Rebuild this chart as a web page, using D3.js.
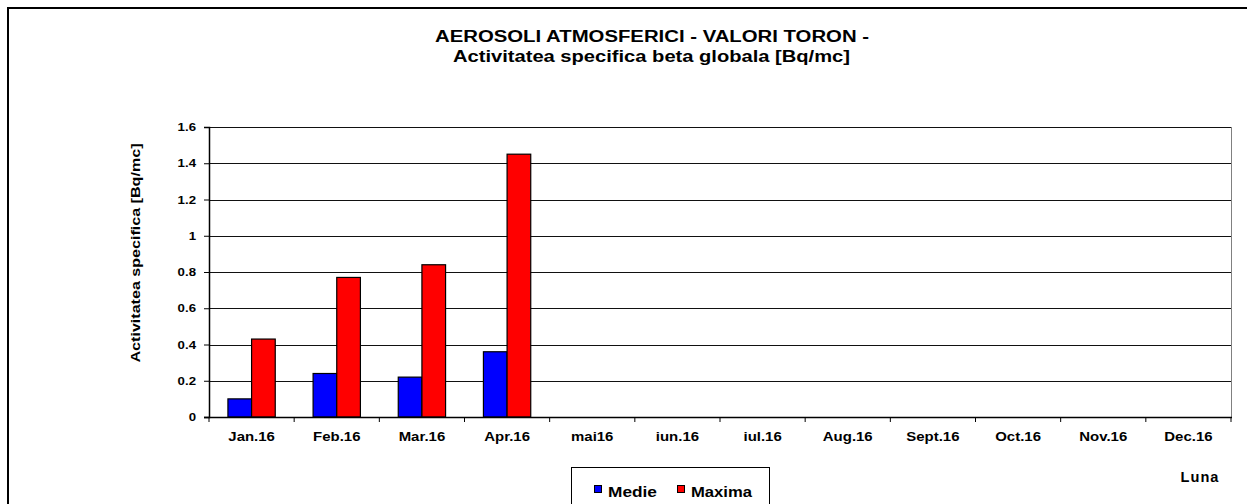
<!DOCTYPE html>
<html>
<head>
<meta charset="utf-8">
<script src="https://cdn.jsdelivr.net/npm/d3@7"></script>
<style>
  html, body { margin: 0; background: #fff; overflow: hidden; }
  svg { display: block; }
  text { font-family: "Liberation Sans", Arial, sans-serif; font-weight: bold; fill: #000; }
</style>
</head>
<body>
<div id="chart"></div>
<script>
var months = ['Jan.16','Feb.16','Mar.16','Apr.16','mai16','iun.16','iul.16','Aug.16','Sept.16','Oct.16','Nov.16','Dec.16'];
var medie  = [0.10, 0.24, 0.22, 0.36, null, null, null, null, null, null, null, null];
var maxima = [0.43, 0.77, 0.84, 1.45, null, null, null, null, null, null, null, null];
var y_ticks = [0, 0.2, 0.4, 0.6, 0.8, 1, 1.2, 1.4, 1.6];
var series_names = ['Medie', 'Maxima'];
var series_colors = ['#0000ff', '#ff0000'];

var width = 1247, height = 504;
var plot = {left: 209, top: 127, right: 1231, bottom: 417};

var svg = d3.select('#chart').append('svg')
    .attr('width', width)
    .attr('height', height);

// the source text is drawn a bit wider than Arial, so stretch it horizontally
function stretch(sel, f) {
  sel.each(function() {
    var n = this.getComputedTextLength();
    d3.select(this)
      .attr('textLength', n * f)
      .attr('lengthAdjust', 'spacingAndGlyphs');
  });
}

// outer chart border: only left and top edges fall inside the picture
svg.append('path')
    .attr('d', 'M8,' + height + 'V8H' + width)
    .attr('fill', 'none')
    .attr('stroke', '#000')
    .attr('stroke-width', 2);

var x = d3.scaleBand()
    .domain(months)
    .range([plot.left, plot.right]);

var x_inner = d3.scaleBand()
    .domain(series_names)
    .range([0, x.bandwidth()])
    .paddingInner(0)
    .paddingOuter(0.8);

var y = d3.scaleLinear()
    .domain([0, 1.6])
    .range([plot.bottom, plot.top]);

// gridlines
svg.append('g')
  .selectAll('line')
  .data(y_ticks.slice(1))
  .enter().append('line')
    .attr('x1', plot.left).attr('x2', plot.right)
    .attr('y1', function(d) { return Math.round(y(d)) + 0.5; })
    .attr('y2', function(d) { return Math.round(y(d)) + 0.5; })
    .attr('stroke', '#111')
    .attr('stroke-width', 1);

// right border of plot area
svg.append('line')
    .attr('x1', plot.right + 0.5).attr('x2', plot.right + 0.5)
    .attr('y1', plot.top).attr('y2', plot.bottom)
    .attr('stroke', '#808080');

// bars
var groups = svg.append('g')
  .selectAll('g')
  .data(months)
  .enter().append('g')
    .attr('transform', function(d) { return 'translate(' + x(d) + ',0)'; });

groups.selectAll('rect')
  .data(function(d, i) {
    return [
      {name: 'Medie', value: medie[i]},
      {name: 'Maxima', value: maxima[i]}
    ].filter(function(e) { return e.value != null; });
  })
  .enter().append('rect')
    .attr('x', function(d) { return x_inner(d.name); })
    .attr('y', function(d) { return y(d.value); })
    .attr('width', x_inner.bandwidth())
    .attr('height', function(d) { return y(0) - y(d.value); })
    .attr('fill', function(d) { return series_colors[series_names.indexOf(d.name)]; })
    .attr('stroke', '#000')
    .attr('stroke-width', 1.2);

// y axis
var yAxis = svg.append('g')
    .attr('transform', 'translate(' + plot.left + ',0)')
    .call(d3.axisLeft(y).tickValues(y_ticks).tickSize(5).tickPadding(8)
      .tickFormat(function(d) { return d3.format('')(d); }));
yAxis.select('.domain').attr('stroke', '#000').attr('stroke-width', 1.5);
yAxis.selectAll('.tick line').attr('stroke', '#000');
yAxis.selectAll('text')
    .style('font-size', '11.5px')
    .style('font-family', '"Liberation Sans", Arial, sans-serif')
    .style('font-weight', 'bold');
stretch(yAxis.selectAll('text'), 1.15);

// x axis
var xAxis = svg.append('g')
    .attr('transform', 'translate(0,' + plot.bottom + ')')
    .call(d3.axisBottom(x).tickSize(0).tickPadding(15));
xAxis.select('.domain').remove();
xAxis.selectAll('text')
    .style('font-size', '13px')
    .style('font-family', '"Liberation Sans", Arial, sans-serif')
    .style('font-weight', 'bold');
stretch(xAxis.selectAll('text'), 1.15);
svg.append('line')
    .attr('x1', plot.left - 5).attr('x2', plot.right + 1)
    .attr('y1', plot.bottom + 0.5).attr('y2', plot.bottom + 0.5)
    .attr('stroke', '#000').attr('stroke-width', 1.5);
svg.append('g')
  .selectAll('line')
  .data(months.concat(['end']))
  .enter().append('line')
    .attr('x1', function(d) { return d == 'end' ? plot.right : x(d); })
    .attr('x2', function(d) { return d == 'end' ? plot.right : x(d); })
    .attr('y1', plot.bottom).attr('y2', plot.bottom + 5)
    .attr('stroke', '#000');

// titles
svg.append('text')
    .attr('x', 652).attr('y', 42)
    .attr('text-anchor', 'middle')
    .attr('textLength', 434)
    .attr('lengthAdjust', 'spacingAndGlyphs')
    .style('font-size', '16px')
    .text('AEROSOLI ATMOSFERICI - VALORI TORON -');
svg.append('text')
    .attr('x', 651.5).attr('y', 62)
    .attr('text-anchor', 'middle')
    .attr('textLength', 397)
    .attr('lengthAdjust', 'spacingAndGlyphs')
    .style('font-size', '16px')
    .text('Activitatea specifica beta globala [Bq/mc]');

svg.append('text')
    .attr('transform', 'translate(140,253) rotate(-90)')
    .attr('text-anchor', 'middle')
    .attr('textLength', 219)
    .attr('lengthAdjust', 'spacingAndGlyphs')
    .style('font-size', '13px')
    .text('Activitatea specifica [Bq/mc]');

svg.append('text')
    .attr('x', 1200).attr('y', 482)
    .attr('text-anchor', 'middle')
    .attr('textLength', 39)
    .attr('lengthAdjust', 'spacingAndGlyphs')
    .style('font-size', '14px')
    .style('letter-spacing', '1px')
    .text('Luna');

// legend
var legend = svg.append('g');
legend.append('rect')
    .attr('x', 571.5).attr('y', 467.5)
    .attr('width', 198).attr('height', 60)
    .attr('fill', '#fff')
    .attr('stroke', '#000');
var leg_x = [594, 677];
var leg_len = [49, 61];
series_names.forEach(function(name, i) {
  legend.append('rect')
    .attr('x', leg_x[i] + 0.5).attr('y', 485.5)
    .attr('width', 7).attr('height', 7)
    .attr('fill', series_colors[i])
    .attr('stroke', '#000');
  legend.append('text')
    .attr('x', leg_x[i] + 14).attr('y', 497)
    .attr('textLength', leg_len[i])
    .attr('lengthAdjust', 'spacingAndGlyphs')
    .style('font-size', '14px')
    .text(name);
});
</script>
</body>
</html>
